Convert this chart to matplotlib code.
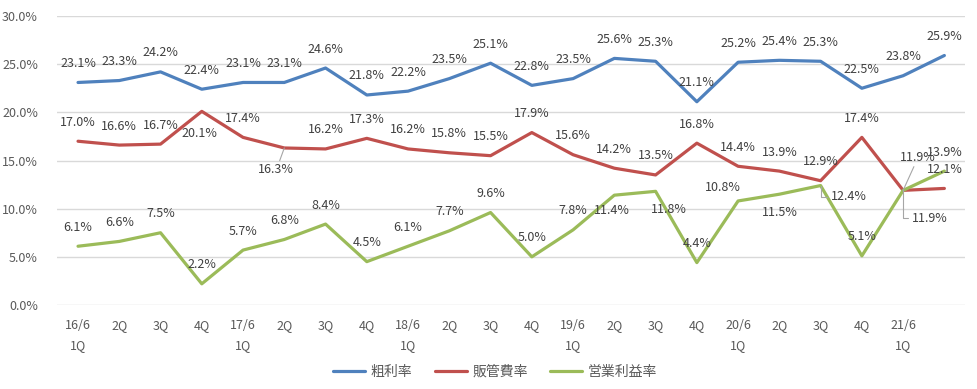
import matplotlib.pyplot as plt
from matplotlib.ticker import FuncFormatter

plt.rcParams['font.family'] = ['Noto Sans CJK JP', 'DejaVu Sans']

# quarters (last point has no label in the original)
quarters = ['16/6\n1Q', '2Q', '3Q', '4Q', '17/6\n1Q', '2Q', '3Q', '4Q',
            '18/6\n1Q', '2Q', '3Q', '4Q', '19/6\n1Q', '2Q', '3Q', '4Q',
            '20/6\n1Q', '2Q', '3Q', '4Q', '21/6\n1Q', '']

gross_margin = [23.1, 23.3, 24.2, 22.4, 23.1, 23.1, 24.6, 21.8, 22.2, 23.5, 25.1,
                22.8, 23.5, 25.6, 25.3, 21.1, 25.2, 25.4, 25.3, 22.5, 23.8, 25.9]
sga_ratio = [17.0, 16.6, 16.7, 20.1, 17.4, 16.3, 16.2, 17.3, 16.2, 15.8, 15.5,
             17.9, 15.6, 14.2, 13.5, 16.8, 14.4, 13.9, 12.9, 17.4, 11.9, 12.1]
op_margin = [6.1, 6.6, 7.5, 2.2, 5.7, 6.8, 8.4, 4.5, 6.1, 7.7, 9.6,
             5.0, 7.8, 11.4, 11.8, 4.4, 10.8, 11.5, 12.4, 5.1, 11.9, 13.9]

series = [
    ('粗利率', gross_margin, '#4F81BD'),
    ('販管費率', sga_ratio, '#C0504D'),
    ('営業利益率', op_margin, '#9BBB59'),
]

W, H = 978, 389
fig = plt.figure(figsize=(W / 100, H / 100), dpi=100)
ax = fig.add_axes([57.4 / W, (H - 305) / H, (965 - 57.4) / W, (305 - 16) / H])

x = list(range(len(quarters)))
for name, vals, col in series:
    ax.plot(x, vals, color=col, lw=2.3, label=name, solid_capstyle='round')

ax.set_xlim(-0.5, len(quarters) - 0.5)
ax.set_ylim(0, 30)
ax.set_yticks(range(0, 31, 5))
ax.yaxis.set_major_formatter(FuncFormatter(lambda v, p: f'{v:.1f}%'))
ax.grid(axis='y', color='#D9D9D9', lw=1)
ax.set_axisbelow(True)
for s in ax.spines.values():
    s.set_visible(False)
ax.tick_params(length=0, colors='#595959', labelsize=9)
ax.tick_params(axis='y', pad=14)
ax.tick_params(axis='x', pad=10)
ax.set_xticks(x)
ax.set_xticklabels(quarters, linespacing=1.75, multialignment='center')

# label offsets in pixels (dx, dy) for labels Excel moved off the default spot
px = 0.72
special = {
    ('販管費率', 3): (-2, -22, None),
    ('販管費率', 5): (-8, -22, 'line'),
    ('販管費率', 20): (15, 33, 'line'),
    ('営業利益率', 13): (-2, -15, None),
    ('営業利益率', 14): (13, -18, None),
    ('営業利益率', 16): (-15, 13, None),
    ('営業利益率', 17): (1, -18, None),
    ('営業利益率', 18): (28, -11, 'elbow'),
    ('営業利益率', 20): (27, -28, 'elbow'),
}
for name, vals, col in series:
    for i, v in enumerate(vals):
        dx, dy, lead = special.get((name, i), (0, 19, None))
        kw = {}
        if lead == 'line':
            kw['arrowprops'] = dict(arrowstyle='-', color='#A6A6A6', lw=0.8,
                                    shrinkA=0, shrinkB=0)
        elif lead == 'elbow':
            kw['arrowprops'] = dict(arrowstyle='-', color='#A6A6A6', lw=0.8,
                                    shrinkA=1, shrinkB=0, relpos=(0, 0.5),
                                    connectionstyle='angle,angleA=0,angleB=90,rad=0')
        ax.annotate(f'{v:.1f}%', xy=(i, v), xytext=(dx * px, dy * px),
                    textcoords='offset points', ha='center', va='center',
                    fontsize=9, color='#404040', **kw)

fig.legend(loc='center', bbox_to_anchor=(495 / W, 1 - 372 / H), ncol=3,
           frameon=False, fontsize=10, handlelength=2.3, columnspacing=1.6,
           handletextpad=0.4, labelcolor='#595959')

fig.savefig('out.png', dpi=100)
